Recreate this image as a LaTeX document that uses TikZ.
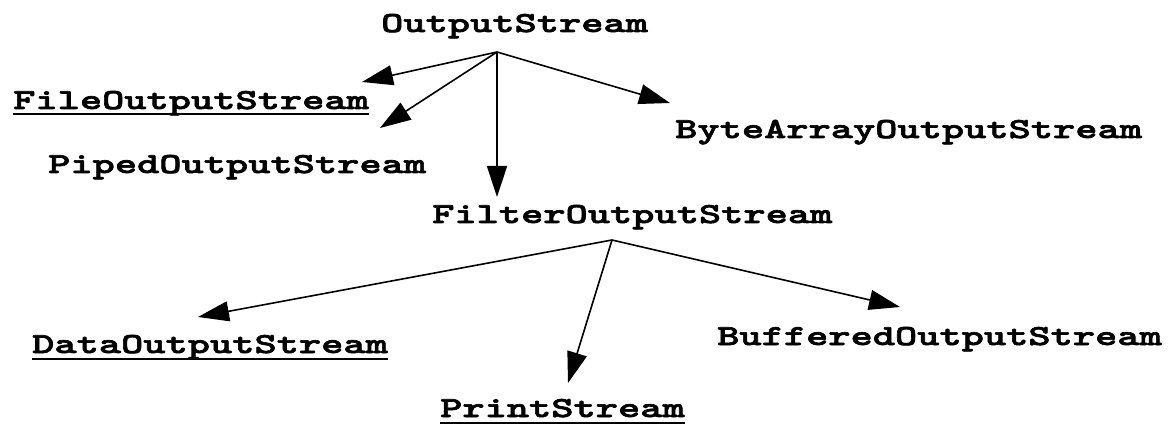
\documentclass[tikz,border=0pt]{standalone}
\usepackage{fontspec}
\newfontfamily\cour{lmmonolt10-bold.otf}[FakeStretch=1.46,FakeBold=2.2]
\usetikzlibrary{arrows.meta}
\begin{document}
\begin{tikzpicture}[x=1pt,y=-1pt,
  cls/.style={inner sep=0pt, anchor=base west, font=\cour\fontsize{29}{32}\selectfont},
  inh/.style={line width=1.6pt, -{Triangle[length=31pt,width=20pt]}},
  uline/.style={line width=1.6pt}]
\useasboundingbox[fill=white] (0,0) rectangle (1172,427);
% nodes
\node[cls] (os) at (381,32) {OutputStream};
\node[cls] (file) at (13,109) {FileOutputStream};
\node[cls] (piped) at (48,173) {PipedOutputStream};
\node[cls] (byte) at (675,138) {ByteArrayOutputStream};
\node[cls] (filter) at (432,223) {FilterOutputStream};
\node[cls] (data) at (32,353) {DataOutputStream};
\node[cls] (print) at (440,417) {PrintStream};
\node[cls] (buf) at (717,345) {BufferedOutputStream};
% hubs and tips
\coordinate (h1) at (497,52);
\coordinate (h2) at (612,240);
\coordinate (tfile) at (362,82);
\coordinate (tpiped) at (380,128);
\coordinate (tfilter) at (497,197);
\coordinate (tbyte) at (670,103);
\coordinate (tdata) at (198,317);
\coordinate (tprint) at (568,383);
\coordinate (tbuf) at (900,307);
% connectors
\draw[inh] (h1) -- (tfile);
\draw[inh] (h1) -- (tpiped);
\draw[inh] (h1) -- (tfilter);
\draw[inh] (h1) -- (tbyte);
\draw[inh] (h2) -- (tdata);
\draw[inh] (h2) -- (tprint);
\draw[inh] (h2) -- (tbuf);
% underlines
\draw[uline] ([yshift=-5pt]file.base west) -- ([yshift=-5pt]file.base east);
\draw[uline] ([yshift=-6pt]data.base west) -- ([yshift=-6pt]data.base east);
\draw[uline] ([yshift=-6pt]print.base west) -- ([yshift=-6pt]print.base east);
\end{tikzpicture}
\end{document}
